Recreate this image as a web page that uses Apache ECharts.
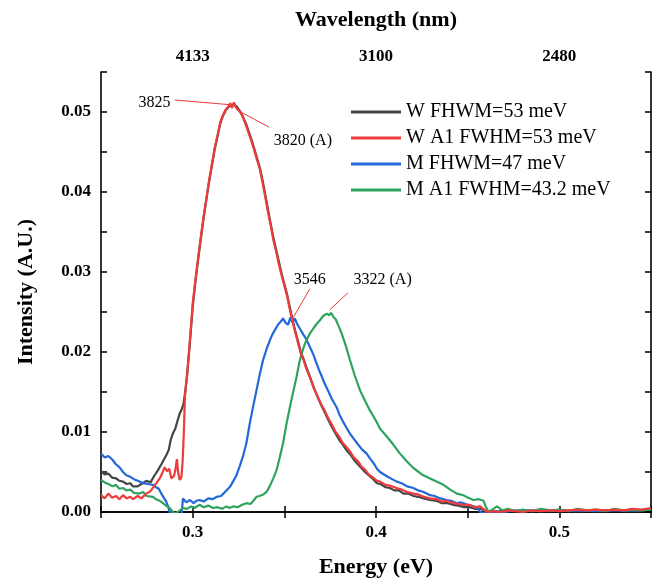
<!DOCTYPE html>
<html>
<head>
<meta charset="utf-8">
<script src="https://cdn.jsdelivr.net/npm/echarts@6/dist/echarts.min.js"></script>
<style>html,body{margin:0;padding:0;background:#fff;}#chart{width:654px;height:578px;}</style>
</head>
<body>
<div id="chart"></div>
<script>
// ---- data (energy in eV, intensity in A.U.) ----
const seriesNames = ['W FHWM=53 meV', 'W A1 FWHM=53 meV', 'M FHWM=47 meV', 'M A1 FWHM=43.2 meV'];

const wData = [
[0.250,0.0051],[0.252,0.0047],[0.254,0.0048],[0.256,0.0043],[0.2583,0.0042],[0.260,0.0039],[0.262,0.0038],[0.264,0.0035],[0.266,0.0036],[0.2674,0.0032],[0.270,0.0032],[0.272,0.0035],[0.2747,0.0039],[0.277,0.0037],[0.279,0.0045],[0.2810,0.0052],[0.2830,0.0060],[0.2856,0.0071],[0.2870,0.0078],[0.2880,0.0090],[0.2892,0.0098],[0.2905,0.0104],[0.2915,0.0112],[0.2929,0.0123],[0.2940,0.0128],[0.2950,0.0135],[0.2958,0.0148],[0.2970,0.0172],[0.2985,0.0212],[0.3000,0.0256],
[0.3015,0.0288],[0.3030,0.0316],[0.3045,0.0342],[0.3060,0.0368],[0.3075,0.0391],[0.3090,0.0413],[0.3105,0.0433],[0.3120,0.0453],[0.3135,0.0469],[0.3150,0.0485],[0.3165,0.0495],[0.3180,0.0502],[0.3195,0.0506],[0.3210,0.0509],[0.3225,0.0509],[0.3240,0.0507],[0.3255,0.0502],[0.3270,0.0496],[0.3290,0.0486],[0.3305,0.0476],[0.3320,0.0466],[0.3335,0.0455],[0.3350,0.0443],[0.3366,0.0431],[0.3380,0.0416],[0.3395,0.0398],[0.3410,0.0379],[0.3425,0.0361],[0.3440,0.0343],[0.3455,0.0328],[0.3470,0.0313],[0.3485,0.0298],[0.3500,0.0285],[0.3515,0.0272],[0.3530,0.0256],[0.3545,0.0240],[0.3560,0.0226],[0.3575,0.0213],[0.3590,0.0200],[0.3605,0.0191],[0.3620,0.0181],[0.3640,0.0169],[0.3660,0.0156],[0.3680,0.0145],[0.3700,0.0134],[0.3720,0.0125],[0.3740,0.0115],[0.3760,0.0106],[0.3780,0.0098],[0.3800,0.0090],[0.3820,0.0084],[0.3840,0.0077],[0.3860,0.0072],[0.3880,0.0065],[0.3900,0.0060],[0.3920,0.0055],[0.3940,0.0050],[0.3960,0.0046],[0.3985,0.0041],[0.4005,0.0036],[0.4025,0.0035],[0.4050,0.0031],[0.4075,0.0030],[0.4100,0.0027],[0.4125,0.0027],[0.4150,0.0023],[0.4175,0.0023],[0.4205,0.0020],[0.4230,0.0019],[0.4260,0.0017],[0.4295,0.0015],[0.4330,0.0014],[0.4360,0.0011],[0.4390,0.0011],[0.4420,0.0009],[0.4450,0.0008],[0.4480,0.0006],[0.4510,0.0006],[0.4540,0.0004],[0.4570,0.0004],[0.4600,0.0001],[0.4650,0.0000],[0.4700,0.0002],[0.4750,0.0001],[0.4800,0.0002],[0.4850,0.0001],[0.4900,0.0002],[0.4950,0.0001],[0.5000,0.0002],[0.5100,0.0001],[0.5200,0.0002],[0.5300,0.0002],[0.5400,0.0001],[0.5500,0.0003]
];

const wA1Data = [
[0.250,0.0021],[0.252,0.0017],[0.254,0.0023],[0.256,0.0018],[0.2583,0.0020],[0.260,0.0016],[0.262,0.0021],[0.264,0.0017],[0.266,0.0019],[0.2674,0.0016],[0.270,0.0020],[0.272,0.0017],[0.2747,0.0023],[0.277,0.0026],[0.2802,0.0036],[0.2820,0.0042],[0.2835,0.0049],[0.2847,0.0056],[0.2860,0.0051],[0.2872,0.0054],[0.2884,0.0042],[0.2898,0.0045],[0.2906,0.0053],[0.2914,0.0066],[0.2921,0.0049],[0.2929,0.0040],[0.2938,0.0043],[0.2945,0.0062],[0.2952,0.0100],[0.2958,0.0145],[0.2970,0.0172],[0.2985,0.0215],[0.3000,0.0260],
[0.3015,0.0290],[0.3030,0.0318],[0.3045,0.0345],[0.3060,0.0370],[0.3075,0.0392],[0.3090,0.0415],[0.3105,0.0435],[0.3120,0.0455],[0.3135,0.0470],[0.3150,0.0487],[0.3165,0.0496],[0.3180,0.0503],[0.3195,0.0507],[0.3205,0.0511],[0.3215,0.0505],[0.3225,0.0512],[0.3235,0.0506],[0.3245,0.0508],[0.3260,0.0500],[0.3275,0.0493],[0.3290,0.0484],[0.3305,0.0474],[0.3320,0.0464],[0.3335,0.0453],[0.3350,0.0441],[0.3366,0.0429],[0.3380,0.0413],[0.3395,0.0395],[0.3410,0.0376],[0.3425,0.0359],[0.3440,0.0340],[0.3455,0.0326],[0.3470,0.0310],[0.3485,0.0296],[0.3500,0.0283],[0.3515,0.0270],[0.3530,0.0253],[0.3545,0.0238],[0.3560,0.0224],[0.3575,0.0211],[0.3590,0.0198],[0.3605,0.0190],[0.3620,0.0179],[0.3640,0.0168],[0.3660,0.0155],[0.3680,0.0145],[0.3700,0.0135],[0.3720,0.0127],[0.3740,0.0117],[0.3760,0.0109],[0.3780,0.0100],[0.3800,0.0094],[0.3820,0.0086],[0.3840,0.0081],[0.3860,0.0075],[0.3880,0.0068],[0.3900,0.0064],[0.3920,0.0057],[0.3940,0.0053],[0.3960,0.0047],[0.3985,0.0043],[0.4005,0.0039],[0.4022,0.0038],[0.4050,0.0034],[0.4075,0.0033],[0.4113,0.0030],[0.4140,0.0028],[0.4170,0.0025],[0.4204,0.0023],[0.4230,0.0022],[0.4260,0.0019],[0.4295,0.0017],[0.4330,0.0016],[0.4360,0.0013],[0.4386,0.0014],[0.4420,0.0011],[0.4450,0.0010],[0.4477,0.0009],[0.4510,0.0009],[0.4540,0.0006],[0.4568,0.0007],[0.4590,0.0003],[0.4605,0.0000],[0.4640,0.0001],[0.4680,0.0000],[0.4720,0.0002],[0.4760,0.0001],[0.4800,0.0000],[0.4850,0.0002],[0.4900,0.0001],[0.4950,0.0002],[0.5000,0.0001],[0.5050,0.0002],[0.5100,0.0003],[0.5150,0.0002],[0.5200,0.0003],[0.5250,0.0002],[0.5300,0.0003],[0.5350,0.0002],[0.5400,0.0004],[0.5450,0.0003],[0.5500,0.0005]
];

const mData = [
[0.250,0.0073],[0.252,0.0068],[0.254,0.0070],[0.2564,0.0065],[0.258,0.0060],[0.260,0.0056],[0.262,0.0050],[0.2638,0.0046],[0.266,0.0044],[0.268,0.0041],[0.2710,0.0038],[0.273,0.0036],[0.2755,0.0035],[0.2783,0.0034],[0.280,0.0031],[0.2815,0.0029],[0.2829,0.0023],[0.2845,0.0017],[0.2856,0.0013],[0.2866,0.0007],[0.2874,0.0000],[0.2900,-0.0003],[0.2940,-0.0003],[0.2947,0.0017],[0.2965,0.0012],[0.2985,0.0015],[0.3005,0.0011],[0.3020,0.0014],[0.3038,0.0015],[0.3060,0.0013],[0.3085,0.0017],[0.3110,0.0016],[0.3130,0.0019],[0.3155,0.0020],[0.3184,0.0027],[0.3205,0.0032],[0.3220,0.0038],[0.3239,0.0046],[0.3255,0.0056],[0.3275,0.0070],[0.3293,0.0086],[0.3311,0.0110],[0.3330,0.0132],[0.3348,0.0152],[0.3366,0.0172],[0.3384,0.0190],[0.3405,0.0205],[0.3420,0.0214],[0.3435,0.0222],[0.3450,0.0228],[0.3465,0.0234],[0.3480,0.0238],[0.3493,0.0242],[0.3505,0.0237],[0.3521,0.0234],[0.3532,0.0243],[0.3545,0.0237],[0.3557,0.0242],[0.3570,0.0235],[0.3585,0.0229],[0.3603,0.0222],[0.3620,0.0216],[0.3640,0.0206],[0.3658,0.0197],[0.3675,0.0186],[0.3690,0.0177],[0.3705,0.0169],[0.3721,0.0160],[0.3740,0.0151],[0.3760,0.0141],[0.3785,0.0131],[0.3800,0.0122],[0.3820,0.0113],[0.3840,0.0105],[0.3858,0.0098],[0.3880,0.0091],[0.3900,0.0085],[0.3925,0.0078],[0.3949,0.0073],[0.3970,0.0066],[0.3990,0.0060],[0.4005,0.0054],[0.4022,0.0050],[0.4050,0.0046],[0.4080,0.0042],[0.4113,0.0038],[0.4140,0.0036],[0.4170,0.0032],[0.4204,0.0030],[0.4230,0.0027],[0.4260,0.0025],[0.4295,0.0021],[0.4320,0.0020],[0.4350,0.0017],[0.4386,0.0015],[0.4410,0.0014],[0.4440,0.0011],[0.4460,0.0012],[0.4477,0.0011],[0.4500,0.0009],[0.4532,0.0007],[0.4555,0.0005],[0.4568,0.0000],[0.4600,-0.0002],[0.4650,0.0001],[0.4700,0.0000],[0.4750,0.0002],[0.4800,0.0001],[0.4850,0.0002],[0.4900,0.0001],[0.4950,0.0002],[0.5000,0.0001],[0.5100,0.0002],[0.5200,0.0001],[0.5300,0.0002],[0.5400,0.0002],[0.5500,0.0003]
];

const mA1Data = [
[0.250,0.0040],[0.252,0.0037],[0.254,0.0035],[0.2564,0.0032],[0.258,0.0034],[0.260,0.0029],[0.2620,0.0030],[0.2638,0.0027],[0.266,0.0028],[0.268,0.0024],[0.2710,0.0023],[0.273,0.0025],[0.275,0.0020],[0.2783,0.0019],[0.280,0.0016],[0.282,0.0014],[0.2838,0.0011],[0.2855,0.0008],[0.2874,0.0005],[0.2890,0.0001],[0.2902,-0.0002],[0.2925,0.0001],[0.2947,0.0005],[0.2970,0.0004],[0.2990,0.0007],[0.3010,0.0005],[0.3038,0.0009],[0.3060,0.0006],[0.3085,0.0008],[0.3111,0.0005],[0.3135,0.0006],[0.3160,0.0004],[0.3185,0.0007],[0.3200,0.0005],[0.3220,0.0007],[0.3245,0.0006],[0.3270,0.0009],[0.3293,0.0011],[0.3315,0.0010],[0.3335,0.0015],[0.3348,0.0019],[0.3365,0.0020],[0.3385,0.0022],[0.3403,0.0025],[0.3420,0.0032],[0.3440,0.0042],[0.3457,0.0052],[0.3475,0.0068],[0.3493,0.0086],[0.3510,0.0108],[0.3530,0.0131],[0.3550,0.0152],[0.3567,0.0169],[0.3580,0.0185],[0.3594,0.0198],[0.3615,0.0212],[0.3639,0.0223],[0.3660,0.0230],[0.3676,0.0235],[0.3695,0.0240],[0.3712,0.0245],[0.3731,0.0248],[0.3745,0.0246],[0.3755,0.0249],[0.3767,0.0244],[0.3780,0.0241],[0.3795,0.0233],[0.3813,0.0223],[0.3835,0.0208],[0.3858,0.0190],[0.3885,0.0170],[0.3913,0.0152],[0.3940,0.0139],[0.3967,0.0127],[0.4000,0.0114],[0.4022,0.0104],[0.4060,0.0094],[0.4095,0.0084],[0.4131,0.0073],[0.4165,0.0064],[0.4204,0.0055],[0.4250,0.0047],[0.4295,0.0042],[0.4330,0.0038],[0.4368,0.0034],[0.4405,0.0028],[0.4441,0.0023],[0.4477,0.0021],[0.4500,0.0018],[0.4532,0.0015],[0.4560,0.0016],[0.4587,0.0014],[0.4600,0.0006],[0.4614,0.0000],[0.4640,0.0004],[0.4660,0.0007],[0.4690,0.0002],[0.4720,0.0004],[0.4760,0.0001],[0.4800,0.0003],[0.4850,0.0001],[0.4900,0.0004],[0.4950,0.0002],[0.5000,0.0003],[0.5050,0.0001],[0.5100,0.0004],[0.5150,0.0002],[0.5200,0.0003],[0.5250,0.0001],[0.5300,0.0004],[0.5350,0.0002],[0.5400,0.0003],[0.5450,0.0002],[0.5500,0.0003]
];

// annotation texts with their anchor (energy, intensity) and leader lines
const annotTexts = ['3825', '3820 (A)', '3546', '3322 (A)'];
const annotTextPos = [[0.2792,0.05115],[0.3601,0.0464],[0.3639,0.0290],[0.4036,0.0290]];
const annotLines = [
  [[0.2902,0.0515],[0.3211,0.0509]],
  [[0.3239,0.0503],[0.3417,0.0481]],
  [[0.3639,0.0279],[0.3546,0.0242]],
  [[0.3847,0.0274],[0.3749,0.0253]]
];

// axis settings
const xMin = 0.25, xMax = 0.55, xStep = 0.05;
const yMin = 0, yMax = 0.055, yStep = 0.005;
const hcConst = 1240; // nm * eV

const FONT = 'Liberation Serif';
const colors = ['#454545', '#ee3b3b', '#2268d8', '#2ea35e'];

function isMajorX(v) { const k = Math.round(v * 100); return k % 10 === 0 && k > 25 && k < 55; }

const chart = echarts.init(document.getElementById('chart'), null, { renderer: 'canvas' });

const axisLineStyle = { show: true, lineStyle: { color: '#000', width: 1.6 } };
const tickStyle = { show: true, inside: true, length: 6, lineStyle: { color: '#000', width: 1.5 } };
const labelFont = { fontFamily: FONT, fontSize: 17, fontWeight: 'bold', color: '#000' };
const nameFont = { fontFamily: FONT, fontSize: 22, fontWeight: 'bold', color: '#000' };

const lineSeries = [wData, wA1Data, mData, mA1Data].map((d, i) => ({
  name: seriesNames[i],
  type: 'line',
  data: d,
  showSymbol: false,
  symbol: 'none',
  clip: true,
  lineStyle: { color: colors[i], width: 2.2 },
  itemStyle: { color: colors[i] },
  z: i === 1 ? 4 : 3
}));

lineSeries[1].markLine = {
  silent: true,
  symbol: ['none', 'none'],
  animation: false,
  lineStyle: { color: '#ee3b3b', width: 1, type: 'solid' },
  label: { show: false },
  data: annotLines.map(l => [{ coord: l[0] }, { coord: l[1] }])
};
lineSeries[1].markPoint = {
  silent: true,
  animation: false,
  data: annotTexts.map((t, i) => ({
    coord: annotTextPos[i],
    symbol: 'circle',
    symbolSize: 0.01,
    itemStyle: { color: 'rgba(0,0,0,0)' },
    label: { show: true, formatter: t, position: 'inside', color: '#000', fontFamily: FONT, fontSize: 16 }
  }))
};

chart.setOption({
  animation: false,
  backgroundColor: '#fff',
  grid: { left: 101, right: 3, top: 72, bottom: 66, containLabel: false, outerBoundsMode: 'none' },
  legend: {
    data: seriesNames,
    orient: 'vertical',
    left: 346,
    top: 97,
    icon: 'rect',
    itemWidth: 50,
    itemHeight: 3,
    itemGap: 6,
    textStyle: { fontFamily: FONT, fontSize: 20, color: '#000', lineHeight: 20 }
  },
  xAxis: [
    {
      type: 'value', position: 'bottom', min: xMin, max: xMax, interval: xStep,
      name: 'Energy (eV)', nameLocation: 'middle', nameGap: 44, nameTextStyle: nameFont,
      axisLine: axisLineStyle, axisTick: tickStyle, splitLine: { show: false },
      axisLabel: Object.assign({ margin: 12, interval: 0, hideOverlap: false,
        formatter: v => isMajorX(v) ? (Math.round(v * 10) / 10).toFixed(1) : '' }, labelFont)
    },
    {
      type: 'value', position: 'top', min: xMin, max: xMax, interval: xStep,
      name: 'Wavelength (nm)', nameLocation: 'middle', nameGap: 41, nameTextStyle: nameFont,
      axisLine: axisLineStyle, axisTick: tickStyle, splitLine: { show: false },
      axisLabel: Object.assign({ margin: 7, interval: 0, hideOverlap: false,
        formatter: v => isMajorX(v) ? String(Math.round(hcConst / v)) : '' }, labelFont)
    }
  ],
  yAxis: [
    {
      type: 'value', position: 'left', min: yMin, max: yMax, interval: yStep,
      name: 'Intensity (A.U.)', nameLocation: 'middle', nameGap: 64, nameTextStyle: nameFont,
      axisLine: axisLineStyle, axisTick: tickStyle, splitLine: { show: false },
      axisLabel: Object.assign({ margin: 10, interval: 0, hideOverlap: false,
        formatter: v => { const k = Math.round(v * 1000); return (k % 10 === 0 && k <= 50) ? (k / 1000).toFixed(2) : ''; } }, labelFont)
    },
    {
      type: 'value', position: 'right', min: yMin, max: yMax, interval: yStep,
      axisLine: axisLineStyle, axisTick: tickStyle, splitLine: { show: false },
      axisLabel: { show: false }
    }
  ],
  series: lineSeries
});
</script>
</body>
</html>
